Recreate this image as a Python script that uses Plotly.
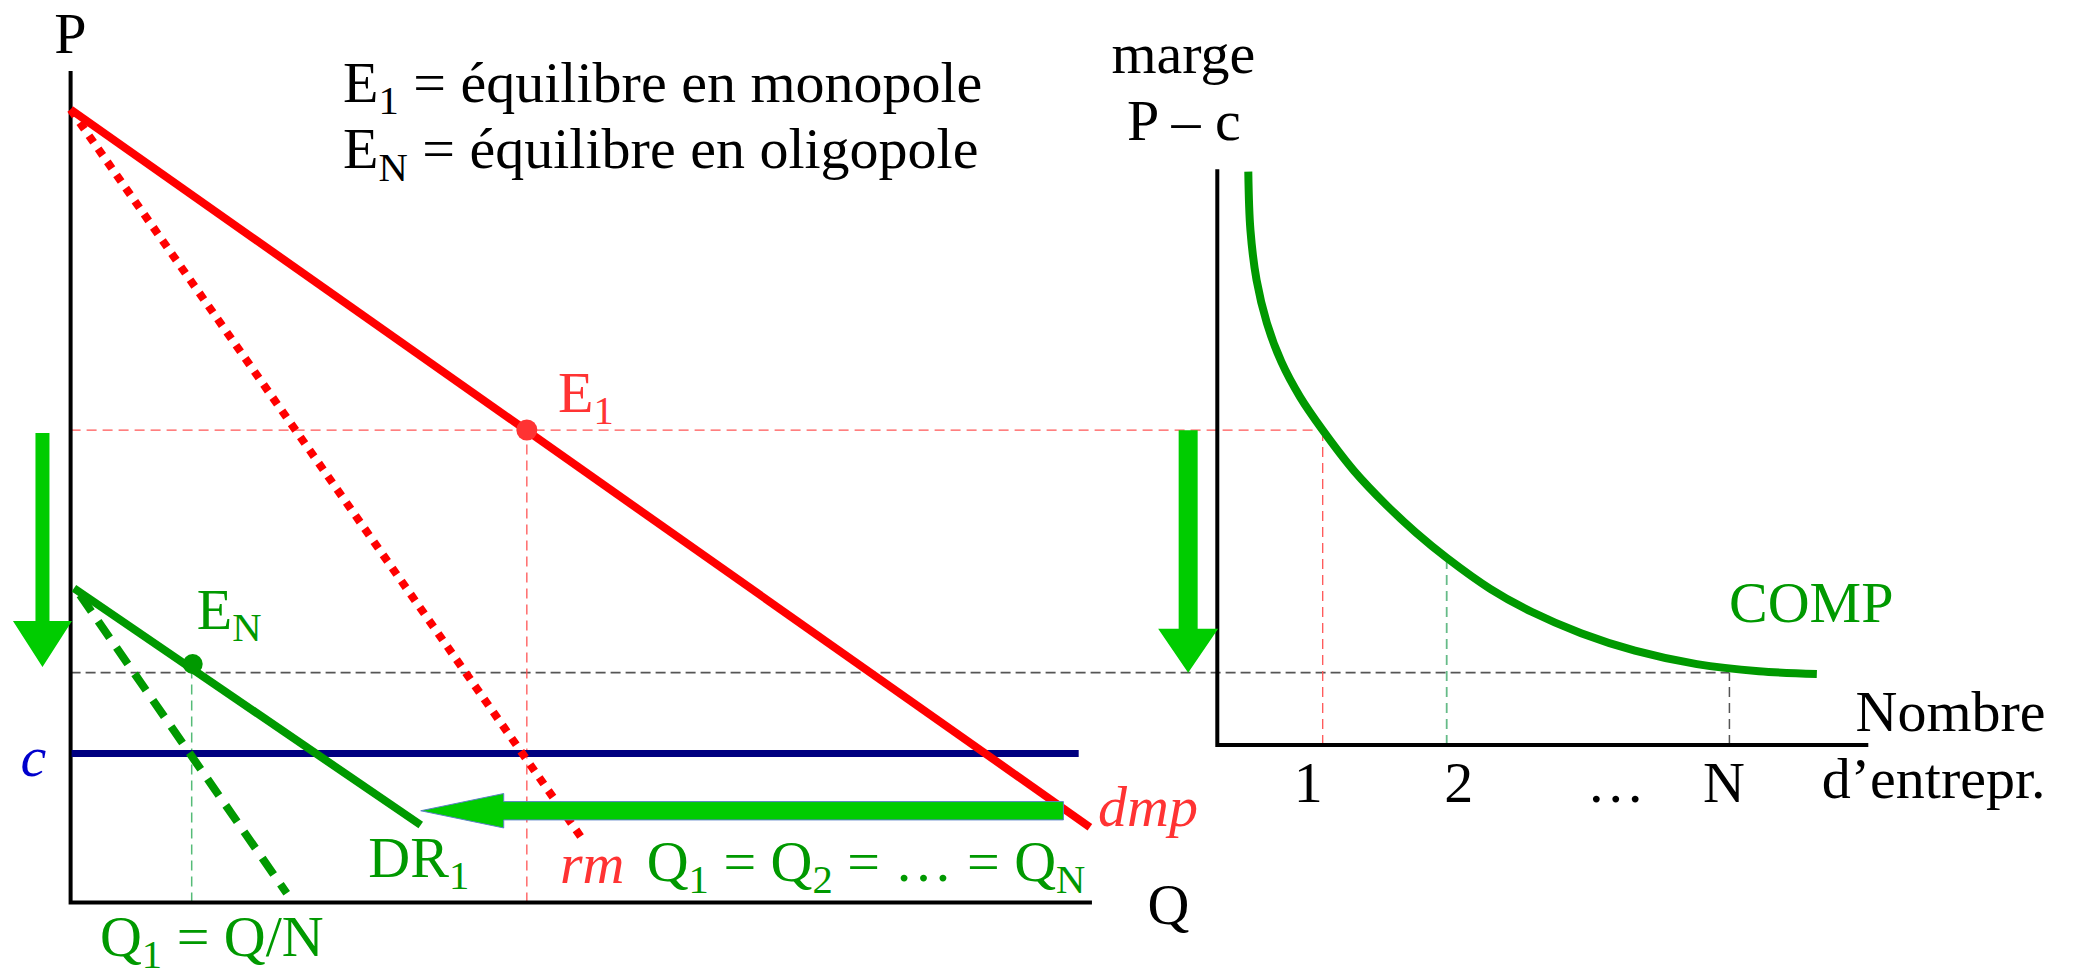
import math
import plotly.graph_objects as go

# ---------------- data ----------------
# Left panel: quantity Q (x) / price P (y)
dmp_Q = [0.0, 100.0]
dmp_P = [100.0, 9.5]
rm_Q = [0.0, 50.1]
rm_P = [100.0, 8.2]
c_Q = [0.1, 98.9]
c_level = 18.8
E1_Q = 44.76
E1_P = 59.58
DR1_Q = [0.33, 34.35]
DR1_P = [39.62, 9.77]
rmN_Q = [0.92, 21.2]
rmN_P = [38.78, 1.16]
EN_Q = 11.98
EN_P = 30.08
QN_guide = 11.88
PN_guide = 28.98
axisL_Q = [0.0, 0.0, 100.2]
axisL_P = [104.86, 0.0, 0.0]
arrowH_Q = [97.4, 34.35]
arrowH_P = [11.57, 11.57]
arrowV_Q = [-2.76, -2.76]
arrowV_P = [59.2, 29.7]

# Right panel: number of firms n (x) / margin P - c (y)
comp_n = [0.400, 0.417, 0.467, 0.550, 0.667, 0.817, 1.000, 1.251, 1.517, 1.751,
          2.001, 2.351, 2.684, 3.084, 3.518, 4.018, 4.518, 4.985]
comp_m = [72.3, 64.96, 58.6, 53.2, 48.3, 43.9, 39.7, 34.6, 30.2, 26.8,
          23.6, 19.7, 16.8, 14.1, 11.9, 10.2, 9.3, 8.95]
n_guides = [1.0, 2.0, 4.28]          # 1, 2, N
tick_text = ["1", "2", "…", "N"]
tick_label_n = [0.884, 2.098, 3.364, 4.236]
axisR_n = [0.15, 0.15, 5.4]
axisR_m = [72.6, 0.0, 0.0]
arrowR_n = [-0.085, -0.085]
arrowR_m = [39.7, 9.12]

# ---------------- layout geometry ----------------
W, H = 2074, 975
Q0_PX, Q_PX = 70.6, 10.193
P0_PY, P_PX = 902.5, 7.93
N1_PX, N_PX = 1322.7, 124.0
M0_PY = 745.0

x_rng = [-Q0_PX / Q_PX, (W - Q0_PX) / Q_PX]
y_rng = [-(H - P0_PY) / P_PX, P0_PY / P_PX]
x2_rng = [1 - N1_PX / N_PX, 1 + (W - N1_PX) / N_PX]
y2_rng = [-(H - M0_PY) / P_PX, M0_PY / P_PX]


def n_to_q(n):
    f = (n - x2_rng[0]) / (x2_rng[1] - x2_rng[0])
    return x_rng[0] + f * (x_rng[1] - x_rng[0])


def p_to_m(p):
    f = (p - y_rng[0]) / (y_rng[1] - y_rng[0])
    return y2_rng[0] + f * (y2_rng[1] - y2_rng[0])


def arrow_poly(xs, ys, sw, hw, hl, xr, yr):
    kx = W / (xr[1] - xr[0])
    ky = H / (yr[1] - yr[0])
    X0, Y0, X1, Y1 = xs[0] * kx, ys[0] * ky, xs[1] * kx, ys[1] * ky
    L = math.hypot(X1 - X0, Y1 - Y0)
    ux, uy = (X1 - X0) / L, (Y1 - Y0) / L
    nx, ny = -uy, ux
    bx, by = X1 - ux * hl, Y1 - uy * hl
    pts = [(X0 + nx * sw / 2, Y0 + ny * sw / 2), (bx + nx * sw / 2, by + ny * sw / 2),
           (bx + nx * hw / 2, by + ny * hw / 2), (X1, Y1),
           (bx - nx * hw / 2, by - ny * hw / 2), (bx - nx * sw / 2, by - ny * sw / 2),
           (X0 - nx * sw / 2, Y0 - ny * sw / 2), (X0 + nx * sw / 2, Y0 + ny * sw / 2)]
    return [p[0] / kx for p in pts], [p[1] / ky for p in pts]


FONT = "Liberation Serif, Times New Roman, serif"
FS = 58
RED = "#FF0000"
LRED = "#FF3333"
GREEN = "#009900"
BGREEN = "#00CC00"
NAVY = "#000080"

fig = go.Figure()


def line(x, y, color, width, dash=None, ax="L", shape="linear"):
    kw = dict(xaxis="x", yaxis="y") if ax == "L" else dict(xaxis="x2", yaxis="y2")
    fig.add_trace(go.Scatter(x=x, y=y, mode="lines", hoverinfo="skip", showlegend=False,
                             line=dict(color=color, width=width, dash=dash, shape=shape), **kw))


def text(x, y, s, color="black", pos="middle center", ax="L", size=FS):
    kw = dict(xaxis="x", yaxis="y") if ax == "L" else dict(xaxis="x2", yaxis="y2")
    fig.add_trace(go.Scatter(x=[x], y=[y], mode="text", text=[s], textposition=pos,
                             hoverinfo="skip", showlegend=False,
                             textfont=dict(family=FONT, size=size, color=color), **kw))


# --- guides (thin dashed) ---
line([0, n_to_q(n_guides[0])], [E1_P, E1_P], "#FF5555", 1.3, "10px,6px")
line([0, n_to_q(n_guides[2])], [PN_guide, PN_guide], "#555555", 1.7, "10px,5px")
line([E1_Q, E1_Q], [0, E1_P], "#FF5555", 1.3, "10px,6px")
line([QN_guide, QN_guide], [0, PN_guide], "#55BB77", 1.5, "10px,6px")
line([n_guides[0]] * 2, [0, p_to_m(E1_P)], "#FF5555", 1.3, "10px,6px", ax="R")
line([n_guides[1]] * 2, [0, comp_m[comp_n.index(2.001)]], "#66BB88", 1.8, "10px,6px", ax="R")
line([n_guides[2]] * 2, [0, p_to_m(PN_guide)], "#555555", 1.5, "10px,6px", ax="R")

# --- axes ---
line(axisL_Q, axisL_P, "black", 4)
line(axisR_n, axisR_m, "black", 4, ax="R")

# --- curves ---
line(c_Q, [c_level, c_level], NAVY, 7)
line(rm_Q, rm_P, RED, 8, "dot")
line(dmp_Q, dmp_P, RED, 8)
line(rmN_Q, rmN_P, GREEN, 8, "20px,12px")
line(DR1_Q, DR1_P, GREEN, 8)
line(comp_n, comp_m, GREEN, 8, ax="R", shape="spline")

# --- big green arrows ---
for xs, ys, sw, hw, hl, ax, outline in [
    (arrowV_Q, arrowV_P, 14, 59, 46, "L", False),
    (arrowH_Q, arrowH_P, 18.3, 34.4, 83, "L", True),
    (arrowR_n, arrowR_m, 19, 60, 44, "R", False),
]:
    xr, yr = (x_rng, y_rng) if ax == "L" else (x2_rng, y2_rng)
    px, py = arrow_poly(xs, ys, sw, hw, hl, xr, yr)
    kw = dict(xaxis="x", yaxis="y") if ax == "L" else dict(xaxis="x2", yaxis="y2")
    fig.add_trace(go.Scatter(x=px, y=py, mode="lines", fill="toself", fillcolor=BGREEN,
                             line=dict(color="#5B7FC7" if outline else BGREEN,
                                       width=1 if outline else 0),
                             hoverinfo="skip", showlegend=False, **kw))

# --- equilibrium points ---
fig.add_trace(go.Scatter(x=[E1_Q], y=[E1_P], mode="markers", hoverinfo="skip", showlegend=False,
                         marker=dict(size=21, color=LRED)))
fig.add_trace(go.Scatter(x=[EN_Q], y=[EN_P], mode="markers", hoverinfo="skip", showlegend=False,
                         marker=dict(size=20, color=GREEN)))

# --- texts, left panel ---
text(-0.03, 108.95, "P")
text(26.73, 102.81, "E<sub>1</sub> = équilibre en monopole", pos="middle right")
text(26.73, 94.41, "E<sub>N</sub> = équilibre en oligopole", pos="middle right")
text(47.82, 63.72, "E<sub>1</sub>", color=LRED, pos="middle right")
text(12.37, 36.28, "E<sub>N</sub>", color=GREEN, pos="middle right")
text(-3.66, 17.78, "<i>c</i>", color="#0000CC")
text(29.21, 5.08, "DR<sub>1</sub>", color=GREEN, pos="middle right")
text(48.01, 4.33, "<i>rm</i>", color=LRED, pos="middle right")
text(56.52, 4.54, "Q<sub>1</sub> = Q<sub>2</sub> = … = Q<sub>N</sub>", color=GREEN, pos="middle right")
text(100.8, 11.48, "<i>dmp</i>", color=LRED, pos="middle right")
text(107.71, -0.86, "Q")
text(2.88, -4.9, "Q<sub>1</sub> = Q/N", color=GREEN, pos="middle right")

# --- texts, right panel ---
text(-0.123, 86.53, "marge", ax="R")
text(-0.119, 78.12, "P – c", ax="R")
text(4.94, 17.38, "COMP", color=GREEN, ax="R")
for n, s in zip(tick_label_n, tick_text):
    text(n, -5.32, s, ax="R")
text(6.83, 3.54, "Nombre", pos="middle left", ax="R")
text(6.83, -4.80, "d’entrepr.", pos="middle left", ax="R")

hidden = dict(visible=False, showgrid=False, zeroline=False, fixedrange=True)
fig.update_layout(
    width=W, height=H, margin=dict(l=0, r=0, t=0, b=0),
    paper_bgcolor="white", plot_bgcolor="white", hovermode=False,
    xaxis=dict(domain=[0, 1], range=x_rng, **hidden),
    yaxis=dict(domain=[0, 1], range=y_rng, **hidden),
    xaxis2=dict(overlaying="x", range=x2_rng, anchor="y2", **hidden),
    yaxis2=dict(overlaying="y", range=y2_rng, anchor="x2", **hidden),
)

fig.write_html("out.html", config={"displayModeBar": False},
               post_script="document.body.style.margin='0';document.body.style.overflow='hidden';")
